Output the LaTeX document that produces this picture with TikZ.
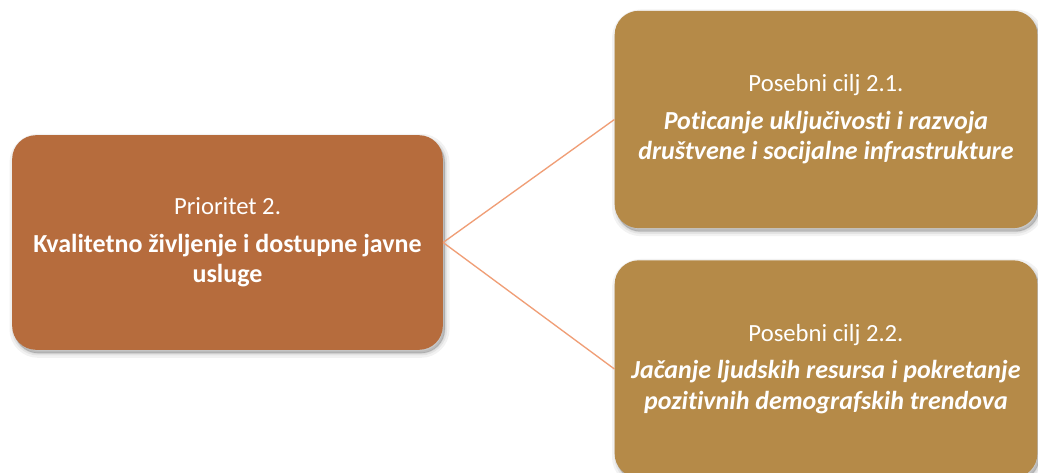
\documentclass[tikz,border=0pt]{standalone}
\usepackage{fontspec}
\setmainfont[Ligatures={NoCommon,NoContextual},RawFeature={-liga;-clig;-dlig}]{Carlito}
\definecolor{leftbox}{RGB}{182,108,61}
\definecolor{rightbox}{RGB}{181,138,72}
\definecolor{linkcol}{RGB}{240,158,118}
\newcommand{\boldline}[1]{{\fontsize{19.5}{23}\selectfont\bfseries #1}}
\tikzset{
  shadowed/.style={
    preaction={fill=black, opacity=0.05, draw=black, line width=7pt, transform canvas={xshift=1.5pt,yshift=-2.5pt}},
    preaction={fill=black, opacity=0.06, draw=black, line width=3.5pt, transform canvas={xshift=1.5pt,yshift=-2.5pt}},
    preaction={fill=black, opacity=0.07, draw=black, line width=1pt, transform canvas={xshift=1.5pt,yshift=-2.5pt}}
  },
  boxbase/.style={shadowed, rounded corners=18pt, inner sep=0pt, align=center, text=white,
    font=\fontsize{18.5}{23}\selectfont},
  prio/.style={boxbase, fill=leftbox, minimum width=323pt, minimum height=161pt},
  goal/.style={boxbase, fill=rightbox, minimum width=317pt, minimum height=163pt},
  link/.style={draw=linkcol, line width=1pt}
}
\begin{document}
\begin{tikzpicture}[x=0.75pt,y=-0.75pt]
\useasboundingbox (0,0) rectangle (1038,473);
\fill[white] (0,0) rectangle (1038,473);
\node[prio] (P) at (227.5,242.5) {Prioritet 2.\\[5pt]\boldline{Kvalitetno življenje i dostupne javne}\\\boldline{usluge}};
\node[goal] (G1) at (826,119.5) {Posebni cilj 2.1.\\[5pt]\boldline{\itshape Poticanje uključivosti i razvoja}\\\boldline{\itshape društvene i socijalne infrastrukture}};
\node[goal] (G2) at (826,369) {Posebni cilj 2.2.\\[5pt]\boldline{\itshape Jačanje ljudskih resursa i pokretanje}\\\boldline{\itshape pozitivnih demografskih trendova}};
\draw[link] (P.east) -- (G1.west);
\draw[link] (P.east) -- (G2.west);
\end{tikzpicture}
\end{document}
